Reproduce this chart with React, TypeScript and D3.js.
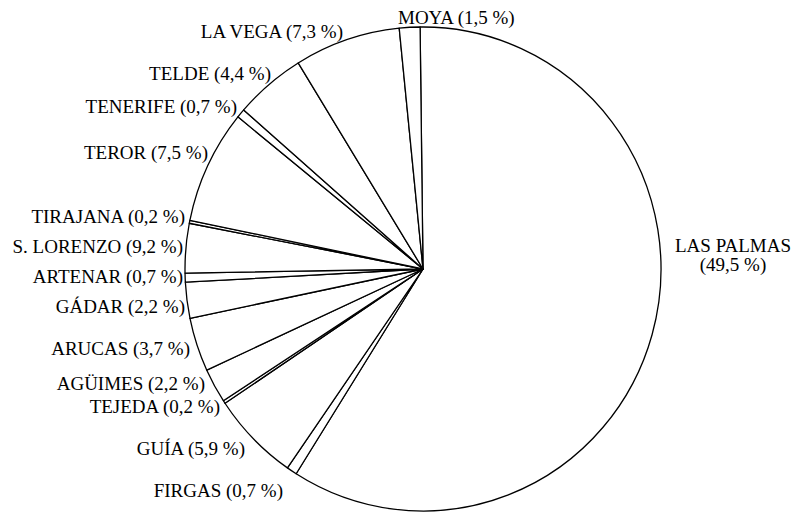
import React from "react";
import * as d3 from "d3";

// Municipalities, clockwise from the top of the pie
const categories = [
  "LAS PALMAS", "FIRGAS", "GUÍA", "TEJEDA", "AGÜIMES", "ARUCAS", "GÁDAR",
  "ARTENAR", "S. LORENZO", "TIRAJANA", "TEROR", "TENERIFE", "TELDE", "LA VEGA", "MOYA",
];
// Angular share of each slice as drawn in the picture (%)
const sliceShare = [59.2, 0.7, 6.0, 0.2, 2.3, 3.6, 2.4, 0.6, 3.3, 0.2, 7.6, 0.6, 4.8, 7.2, 1.4];
// Percentages printed in the labels
const statedPct = ["49,5", "0,7", "5,9", "0,2", "2,2", "3,7", "2,2", "0,7", "9,2", "0,2", "7,5", "0,7", "4,4", "7,3", "1,5"];

const W = 798, H = 512;
const CX = 423, CY = 269, RX = 238, RY = 242;
const START_DEG = -0.7;

// label anchor positions (x = end of text unless noted, y = baseline)
const labelPos: Record<string, { x: number; y: number; anchor: string }> = {
  "FIRGAS": { x: 283, y: 497, anchor: "end" },
  "GUÍA": { x: 245, y: 455, anchor: "end" },
  "TEJEDA": { x: 220, y: 413, anchor: "end" },
  "AGÜIMES": { x: 205, y: 390, anchor: "end" },
  "ARUCAS": { x: 190, y: 355, anchor: "end" },
  "GÁDAR": { x: 185, y: 313, anchor: "end" },
  "ARTENAR": { x: 183, y: 283, anchor: "end" },
  "S. LORENZO": { x: 183, y: 253, anchor: "end" },
  "TIRAJANA": { x: 185, y: 223, anchor: "end" },
  "TEROR": { x: 208, y: 159, anchor: "end" },
  "TENERIFE": { x: 237, y: 113, anchor: "end" },
  "TELDE": { x: 271, y: 80, anchor: "end" },
  "LA VEGA": { x: 343, y: 38, anchor: "end" },
  "MOYA": { x: 398, y: 24, anchor: "start" },
};

export default function App() {
  const data = categories.map((c, i) => ({ name: c, v: sliceShare[i], pct: statedPct[i] }));
  const start = (START_DEG * Math.PI) / 180;
  const pie = d3
    .pie<{ name: string; v: number; pct: string }>()
    .sort(null)
    .value((d) => d.v)
    .startAngle(start)
    .endAngle(start + 2 * Math.PI);
  const arcs = pie(data);
  const arcGen = d3.arc<d3.PieArcDatum<{ name: string; v: number; pct: string }>>()
    .innerRadius(0)
    .outerRadius(RY);

  const font = "'Liberation Serif', 'Times New Roman', serif";
  return (
    <svg
      width={W}
      height={H}
      viewBox={`0 0 ${W} ${H}`}
      style={{ position: "absolute", left: 0, top: 0, background: "#fff" }}
    >
      <rect x={0} y={0} width={W} height={H} fill="#fff" />
      <g transform={`translate(${CX},${CY}) scale(${RX / RY},1)`}>
        {arcs.map((a) => (
          <path
            key={a.data.name}
            d={arcGen(a) || ""}
            fill="#fff"
            stroke="#000"
            strokeWidth={1.3}
            strokeLinejoin="round"
            vectorEffect="non-scaling-stroke"
          />
        ))}
      </g>
      <g fontFamily={font} fontSize={19} fill="#000">
        {data.map((d) => {
          if (d.name === "LAS PALMAS") {
            return (
              <g key={d.name}>
                <text x={733} y={252} textAnchor="middle">{d.name}</text>
                <text x={733} y={271} textAnchor="middle">({d.pct} %)</text>
              </g>
            );
          }
          const p = labelPos[d.name];
          return (
            <text key={d.name} x={p.x} y={p.y} textAnchor={p.anchor}>
              {`${d.name} (${d.pct} %)`}
            </text>
          );
        })}
      </g>
    </svg>
  );
}
